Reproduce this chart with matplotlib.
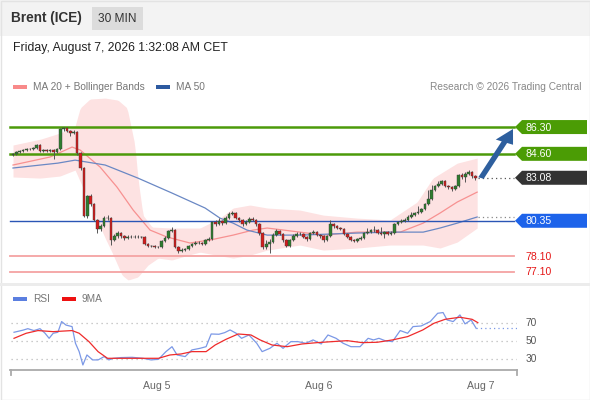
import matplotlib
matplotlib.use("Agg")
import matplotlib.pyplot as plt
from matplotlib.patches import Rectangle, Polygon, FancyArrow
import numpy as np

plt.rcParams['font.family'] = ['Liberation Sans', 'DejaVu Sans']

# --- price data (30 min candles) ---
closes = [84.59, 84.71, 84.78, 84.84, 84.90, 84.90, 84.97, 85.16, 84.78, 84.84,
          84.78, 84.84, 84.71, 84.90, 86.17, 86.24, 86.05, 85.92, 85.98, 84.65,
          83.70, 80.65, 81.92, 81.41, 80.40, 79.82, 80.01, 80.52, 80.52, 79.13,
          79.38, 79.57, 79.38, 79.25, 79.32, 79.32, 79.32, 79.32, 79.32, 78.87,
          78.74, 78.74, 78.68, 78.68, 79.06, 79.25, 79.70, 79.76, 78.68, 78.43,
          78.49, 78.55, 78.74, 78.87, 78.94, 78.94, 78.87, 79.13, 79.19, 80.27,
          80.14, 80.33, 80.20, 80.52, 80.78, 80.84, 80.52, 80.40, 80.14, 80.27,
          80.46, 80.40, 80.14, 79.57, 78.68, 78.87, 79.00, 79.44, 79.70, 79.51,
          79.13, 78.74, 79.13, 79.38, 79.51, 79.51, 79.32, 79.19, 79.57, 79.63,
          79.44, 79.38, 79.13, 79.38, 80.14, 80.01, 79.89, 79.82, 79.51, 79.32,
          79.13, 79.06, 79.19, 79.25, 79.57, 79.63, 79.76, 79.76, 79.57, 79.51,
          79.63, 79.51, 79.57, 80.14, 80.27, 80.33, 80.40, 80.59, 80.71, 80.84,
          80.90, 81.09, 81.41, 81.73, 82.30, 82.55, 82.68, 82.87, 82.55, 82.49,
          82.36, 82.55, 83.25, 83.13, 83.32, 83.44, 83.19, 83.08]
opens = [84.50] + closes[:-1]
highs = [84.65, 84.78, 84.84, 84.90, 84.97, 84.97, 85.03, 85.22, 85.20, 84.92,
         84.90, 84.92, 84.90, 84.97, 86.24, 86.30, 86.28, 86.10, 86.11, 86.05,
         84.71, 83.76, 82.00, 82.05, 81.50, 80.46, 80.14, 80.65, 80.71, 80.59,
         79.51, 79.70, 79.63, 79.44, 79.44, 79.44, 79.44, 79.44, 79.40, 79.38,
         78.94, 78.80, 78.80, 78.74, 79.13, 79.38, 79.76, 79.95, 79.82, 78.74,
         78.62, 78.62, 78.80, 78.94, 79.06, 79.06, 79.00, 79.19, 79.32, 80.33,
         80.40, 80.52, 80.40, 80.65, 80.90, 80.97, 80.90, 80.59, 80.46, 80.40,
         80.59, 80.59, 80.46, 80.20, 79.63, 79.13, 79.19, 79.57, 79.82, 79.76,
         79.57, 79.19, 79.19, 79.51, 79.63, 79.63, 79.57, 79.38, 79.63, 79.76,
         79.70, 79.51, 79.44, 79.44, 80.40, 80.20, 80.08, 79.95, 79.89, 79.57,
         79.38, 79.19, 79.25, 79.38, 79.63, 79.89, 79.82, 80.01, 79.82, 79.95,
         79.70, 79.70, 79.70, 80.20, 80.33, 80.46, 80.52, 80.71, 80.90, 80.90,
         81.28, 81.16, 81.47, 82.30, 82.62, 82.62, 82.87, 82.93, 82.93, 82.62,
         82.55, 82.62, 83.32, 83.38, 83.44, 83.57, 83.51, 83.25]
lows = [84.44, 84.55, 84.66, 84.72, 84.80, 84.84, 84.86, 84.92, 84.72, 84.72,
        84.70, 84.74, 84.27, 84.66, 84.86, 86.05, 85.98, 85.73, 85.86, 84.52,
        83.57, 80.59, 80.55, 81.28, 80.33, 79.57, 79.70, 79.95, 80.40, 78.80,
        79.06, 79.25, 79.25, 79.13, 79.19, 79.25, 79.25, 79.25, 79.25, 78.80,
        78.68, 78.68, 78.62, 78.62, 78.62, 79.00, 79.19, 79.63, 78.62, 78.30,
        78.36, 78.43, 78.49, 78.68, 78.80, 78.87, 78.80, 78.80, 79.06, 79.13,
        80.01, 80.08, 80.08, 80.14, 80.46, 80.71, 80.46, 80.27, 80.01, 80.08,
        80.20, 80.33, 80.01, 79.44, 78.55, 78.55, 78.30, 78.94, 79.38, 79.44,
        79.00, 78.68, 78.68, 79.06, 79.32, 79.44, 79.25, 79.06, 79.13, 79.51,
        79.38, 79.25, 79.00, 79.06, 79.32, 79.89, 79.82, 79.76, 79.44, 79.25,
        79.06, 79.00, 79.00, 79.13, 79.19, 79.51, 79.57, 79.63, 79.51, 79.44,
        79.25, 79.44, 79.44, 79.51, 80.08, 80.20, 80.27, 80.33, 80.52, 80.65,
        80.78, 80.84, 81.03, 81.35, 81.66, 82.24, 82.49, 82.62, 82.49, 82.36,
        82.24, 82.30, 82.49, 83.00, 82.81, 83.25, 83.06, 82.94]

# indicator curves, sampled along the candle index
ma20_t = [0, 11, 17.5, 19.9, 25.8, 30.8, 35.6, 40.6, 45.6, 52.4, 58.4, 65.2,
          71.1, 75.3, 85, 91.9, 101.9, 114.7, 121.5, 126.5, 131.6, 137.5]
ma20 = [83.89, 84.40, 85.03, 84.84, 83.76, 82.49, 81.03, 79.76, 79.32, 78.94, 79.13, 79.44,
        79.76, 79.89, 79.63, 79.44, 79.63, 79.63, 80.20, 80.84, 81.54, 82.17]
ma50_t = [0, 13.3, 18.4, 27.3, 37.0, 47.1, 56.9, 61.3, 65.2, 69.3, 75.3, 85.0,
          101.9, 111.7, 121.5, 126.5, 131.6, 137.5]
ma50 = [83.70, 84.01, 84.20, 83.89, 83.06, 82.11, 81.16, 80.52, 80.20, 79.76, 79.44, 79.44,
        79.57, 79.63, 79.63, 79.89, 80.20, 80.59]
bb_up_t = [0, 8.3, 13.9, 18.4, 19.9, 22.8, 27.3, 31.1, 33.8, 36.1, 37.0, 38.5, 41.2,
           47.1, 55.4, 61.3, 65.2, 70.2, 75.3, 85.0, 91.9, 101.9, 111.7, 119.7, 124.4,
           131.6, 137.5]
bb_up = [85.16, 85.54, 85.92, 86.36, 87.51, 88.08, 88.14, 88.01, 87.51, 85.16, 83.06, 80.71,
         79.95, 79.89, 79.89, 80.52, 81.16, 81.35, 81.16, 81.03, 80.71, 80.52, 80.40, 81.54,
         83.06, 84.01, 84.33]
bb_lo_t = [0, 8.0, 13.9, 18.4, 21.3, 24.3, 27.3, 29.3, 32.3, 34.1, 37.0, 40.0, 43.0,
           47.1, 51.9, 55.4, 65.2, 70.2, 75.3, 85.0, 91.9, 101.9, 111.7, 121.5, 126.5,
           131.6, 137.5]
bb_lo = [83.13, 83.06, 83.19, 83.57, 82.17, 80.71, 79.25, 78.36, 76.90, 76.59, 76.78, 77.54,
         77.98, 77.86, 78.17, 78.36, 77.98, 78.17, 78.49, 78.81, 78.49, 78.62, 78.81, 78.81,
         78.62, 79.00, 79.89]

rsi_t = [0.3, 3, 4.4, 6.2, 8, 9.5, 10.7, 11.9, 13.3, 14.4, 15.7, 17.5, 18.5, 19.6, 20.7,
         21.9, 23.6, 25.2, 27, 28.4, 29.6, 32, 35.3, 38.5, 40.9, 43.1, 45.3, 47.1, 48.6,
         51, 53, 55.4, 57.2, 58.7, 61, 62.7, 64.3, 66.1, 67.7, 69.9, 72.2, 73.8, 76.1,
         78.2, 80, 82.3, 84.4, 86.7, 88.9, 91.3, 93.3, 95.7, 97.8, 100.1, 102.8, 105.2,
         106.8, 108.4, 110.2, 112.4, 114.7, 116.9, 118.5, 120.9, 123.6, 125.8, 127.4,
         128.6, 130.4, 132.4, 133.9, 135.7, 137.2]
rsi = [60, 62.4, 64, 61.9, 64, 58.9, 53.3, 58.9, 60, 71.9, 68, 66.3, 47.8, 38.5, 23.7,
       34.8, 29.3, 29.3, 33, 29.3, 31, 31.9, 32.2, 31.1, 29.3, 30, 38.5, 44, 34.8,
       33, 40.4, 42.2, 44, 58.1, 57.8, 59.6, 62.6, 58.9, 53.3, 57, 47.8, 38.5, 42.2,
       47.8, 42.2, 49.6, 49.6, 47.8, 51.5, 47, 57, 53.3, 47.8, 44, 44, 53.3,
       51.5, 53.3, 50.7, 49.6, 61.9, 58.9, 66.3, 67, 71.9, 81.1, 81.9,
       73.7, 71.9, 79.3, 69.3, 73.7, 64.4]
rsi_ma_t = [0.3, 3.9, 7.4, 11.9, 17.5, 19.6, 22.5, 25.2, 28, 32, 38.5, 43.1, 46.5, 49.8,
            53, 57.2, 59.9, 63.1, 66.7, 70.5, 73.2, 76.7, 81.2, 85.6, 90.1, 94.5, 99,
            103.4, 107.9, 112.4, 116.9, 121.4, 124.7, 128, 132.4, 136, 137.7]
rsi_ma = [53.3, 58.9, 61.9, 60.7, 61.9, 58.9, 49.6, 38.5, 31.1, 31.1, 31.1, 31.1, 34.8, 35.9,
          38.5, 38.5, 45.9, 52.2, 58.1, 57, 51.5, 45.9, 44, 47, 48.5, 49.6, 50.7,
          48.5, 48.9, 51.5, 55.2, 62.6, 70, 74.4, 76.7, 74.4, 70.7]

targets = [86.30, 84.60]
pivot = 80.35
last_price = 83.08
supports = [78.10, 77.10]
day_ticks = [42.67, 90.67, 138.67]
day_labels = ["Aug 5", "Aug 6", "Aug 7"]

W, H = 590, 400
fig = plt.figure(figsize=(W / 100, H / 100), dpi=100)

def box(x0, y0, x1, y1):
    # pixel box (top-left origin) -> figure fraction
    return [x0 / W, 1 - y1 / H, (x1 - x0) / W, (y1 - y0) / H]

# decoration layer in pixel coordinates
deco = fig.add_axes([0, 0, 1, 1], zorder=0)
deco.set_xlim(0, W)
deco.set_ylim(H, 0)
deco.axis("off")
deco.add_patch(Rectangle((0, 0), W, 36, color="#f3f3f3", lw=0))
deco.add_patch(Rectangle((92, 7), 51, 23, color="#dcdcdc", lw=0))
deco.add_patch(Rectangle((0.5, 0.5), W - 1, H - 1, fill=False, ec="#e3e3e3", lw=1))
deco.add_patch(Rectangle((0, 283), W, 2.5, color="#ececec", lw=0))
deco.text(11, 18, "Brent (ICE)", fontsize=9.8, fontweight="bold", color="#333333", va="center")
deco.text(117.5, 18.5, "30 MIN", fontsize=8.6, color="#333333", va="center", ha="center")
deco.text(13, 48, "Friday, August 7, 2026 1:32:08 AM CET", fontsize=8.8, color="#222222", va="center")

deco.add_patch(Rectangle((13, 84.5), 14, 4, color="#f88a8a", lw=0))
deco.text(33, 86.5, "MA 20 + Bollinger Bands", fontsize=7.3, color="#777777", va="center")
deco.add_patch(Rectangle((156, 84.5), 14, 4, color="#2d5aa0", lw=0))
deco.text(176, 86.5, "MA 50", fontsize=7.3, color="#777777", va="center")
deco.text(581, 86.5, "Research \u00a9 2026 Trading Central", fontsize=7.3, color="#888888",
          va="center", ha="right")

deco.add_patch(Rectangle((13, 297), 14, 4, color="#5b7fe0", lw=0))
deco.text(33, 299, "RSI", fontsize=7.3, color="#777777", va="center")
deco.add_patch(Rectangle((62, 297), 14, 4, color="#ee1111", lw=0))
deco.text(82, 299, "9MA", fontsize=7.3, color="#777777", va="center")

# --- price pane ---
ax = fig.add_axes(box(10, 62, 517, 283), zorder=2)
ax.set_facecolor("none")
x_left, x_right = -0.89, 149.3
ax.set_xlim(x_left, x_right)
ax.set_ylim(76.40, 90.43)
ax.axis("off")

band_x = np.linspace(0, 137.5, 300)
ax.fill_between(band_x, np.interp(band_x, bb_lo_t, bb_lo), np.interp(band_x, bb_up_t, bb_up),
                color="#fde2e2", lw=0, zorder=1)
ax.plot(ma20_t, ma20, color="#f79191", lw=0.9, zorder=2)
ax.plot(ma50_t, ma50, color="#6a88c4", lw=0.9, zorder=2)

for lv in targets:
    ax.plot([x_left, 148.3], [lv, lv], color="#4c9a0a", lw=1.8, zorder=3, clip_on=False)
ax.plot([x_left, 148.3], [pivot, pivot], color="#2a55b5", lw=1.0, zorder=3, clip_on=False)
for lv in supports:
    ax.plot([x_left, 148.3], [lv, lv], color="#f5a3a3", lw=1.3, zorder=3, clip_on=False)

idx = np.arange(len(closes))
o = np.array(opens); c = np.array(closes)
up = c >= o
ax.vlines(idx, lows, highs, color="#555555", lw=0.7, zorder=4)
body_lo = np.minimum(o, c)
body_h = np.maximum(np.abs(c - o), 0.03)
ax.bar(idx, body_h, bottom=body_lo, width=0.78,
       color=np.where(up, "#2e7d2e", "#d41c1c"), edgecolor="#3a3a3a", lw=0.3, zorder=5)

ax.plot([idx[-1] + 0.8, 148.3], [last_price, last_price], color="#555555", lw=0.9,
        ls=(0, (1, 2.5)), zorder=3, clip_on=False)
ax.plot([ma50_t[-1] + 0.3, 148.3], [ma50[-1], ma50[-1]], color="#888888", lw=0.9,
        ls=(0, (1, 2.5)), zorder=3, clip_on=False)

# --- price tags, arrow (pixel layer) ---
def tag(yc, colour, label):
    deco.add_patch(Polygon([(515, yc), (522, yc - 7), (587, yc - 7), (587, yc + 7), (522, yc + 7)],
                           closed=True, color=colour, lw=0, zorder=3))
    deco.text(525, yc + 0.5, label, fontsize=7.6, color="white", va="center", zorder=4)

def price_to_px(p):
    return 62 + (90.43 - p) / (90.43 - 76.40) * (283 - 62)

tag(price_to_px(targets[0]), "#4b9c05", "%.2f" % targets[0])
tag(price_to_px(targets[1]), "#4b9c05", "%.2f" % targets[1])
tag(price_to_px(last_price), "#333333", "%.2f" % last_price)
tag(price_to_px(pivot), "#1d63ea", "%.2f" % pivot)
for lv in supports:
    deco.text(525, price_to_px(lv) + 0.5, "%.2f" % lv, fontsize=7.6, color="#e51616", va="center")

fig.add_artist(FancyArrow(481 / W, 1 - 178 / H, 32 / W, 49 / H, width=0.010, head_width=0.032,
                          head_length=0.036, length_includes_head=True,
                          color="#2e5f9e", lw=0, transform=fig.transFigure, zorder=6))

# --- RSI pane ---
rx = fig.add_axes(box(10, 305, 517, 370), zorder=2)
rx.set_facecolor("none")
rx.set_xlim(x_left, x_right)
rx.set_ylim(18.1, 90.3)
for s in ["top", "right", "left"]:
    rx.spines[s].set_visible(False)
rx.spines["bottom"].set_color("#aaaaaa")
rx.spines["bottom"].set_linewidth(1.3)
for lv in [70, 50, 30]:
    rx.plot([x_left + 0.3, x_right], [lv, lv], color="#bbbbbb", lw=0.9, ls=(0, (1, 3)), zorder=1)
    rx.text(1.016, (lv - 18.1) / (90.3 - 18.1), str(lv), transform=rx.transAxes,
            fontsize=7.3, color="#555555", va="center")
rx.plot(rsi_ma_t, rsi_ma, color="#ef2b2b", lw=0.9, zorder=3)
rx.plot(rsi_t, rsi, color="#7b98e6", lw=0.9, zorder=2)
rx.plot([rsi_t[-1], x_right], [rsi[-1], rsi[-1]], color="#7b98e6", lw=0.9, ls=(0, (1, 2.5)))
rx.set_yticks([])
rx.set_xticks(day_ticks)
rx.set_xticklabels(day_labels, fontsize=7.6, color="#666666")
rx.tick_params(axis="x", length=0, pad=8)
deco.plot([11, 11], [370, 375], color="#aaaaaa", lw=1.3)
deco.plot([516.5, 516.5], [370, 375], color="#aaaaaa", lw=1.3)

fig.savefig("out.png", dpi=100)
